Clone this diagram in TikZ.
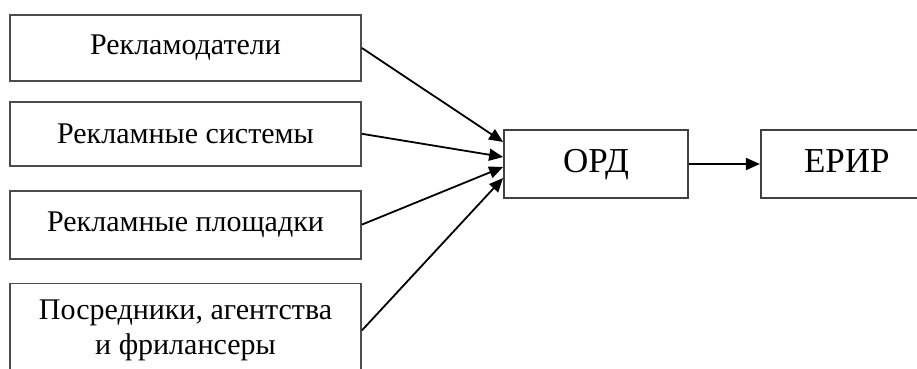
\documentclass[tikz,border=0pt]{standalone}
\usepackage{fontspec}
\setmainfont{Liberation Serif}
\usetikzlibrary{positioning,arrows.meta,calc}

\begin{document}
\begin{tikzpicture}[
  x=1pt, y=1pt,
  font=\fontsize{30}{35}\selectfont,
  party/.style={draw=black!70, line width=1.8pt, minimum width=351pt,
                align=center, inner sep=0pt},
  hub/.style={draw=black!75, line width=1.8pt, minimum height=68pt,
              inner sep=0pt, text height=22pt, text depth=6pt,
              font=\fontsize{35}{40}\selectfont},
  flow/.style={-{Triangle[length=14pt, width=12pt]}, line width=1.8pt},
]
\clip (0,0) rectangle (917,-368);

% ---- Participants -----------------------------------------------------------
\node[party, minimum height=66pt] (advert) at (185.5,-48) {Рекламодатели};
\node[party, minimum height=64pt, below=19pt of advert] (systems)
  {Рекламные системы};
\node[party, minimum height=68pt, below=23pt of systems] (sites)
  {Рекламные площадки};
\node[party, minimum height=94pt, below=23pt of sites] (agents)
  {Посредники, агентства\\ и фрилансеры};

% ---- Operator and registry --------------------------------------------------
\node[hub, minimum width=184pt] (ord) at (596,-164) {ОРД};
\node[hub, minimum width=172pt, right=71pt of ord] (erir) {ЕРИР};

% ---- Arrows -----------------------------------------------------------------
\draw[flow] (advert.east) -- ($(ord.west)+(0,22)$);
\draw[flow] (systems.east) -- ($(ord.west)+(0,7)$);
\draw[flow] (sites.east) -- ($(ord.west)+(0,-3)$);
\draw[flow] (agents.east) -- ($(ord.west)+(0,-14)$);
\draw[flow] (ord) -- (erir);

\end{tikzpicture}
\end{document}
